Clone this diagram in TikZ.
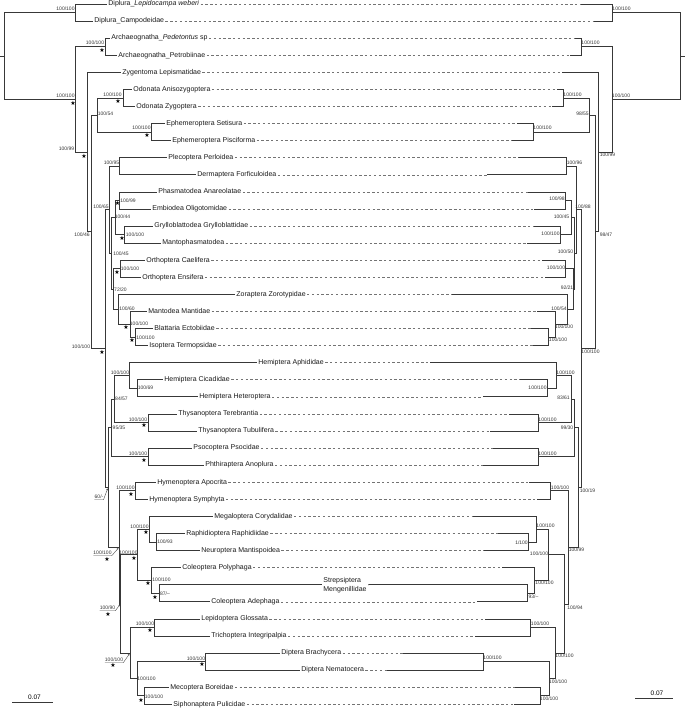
\documentclass[tikz,border=0pt]{standalone}
\usepackage{fontspec}
\setmainfont{Liberation Sans}
\newfontfamily\symf{DejaVu Sans}
\usetikzlibrary{arrows.meta}
\newcommand\tipL[3]{%
  \pgfmathsetmacro\tyy{4+(#1-1)*17.08}%
  \coordinate (L-t#1) at (#2,\tyy);%
  \node[tip] (LN#1) at (L-t#1) {#3};}
\newcommand\nlab[4]{\node[blab] (#1) at (#2,#3) {#4};}
\newcommand\nstar[3]{\node[strs] (#1) at (#2,#3) {★};}
\begin{document}
\begin{tikzpicture}[x=1pt,y=-1pt,
  br/.style={draw=black!78, line width=0.75pt},
  dsh/.style={draw=black!55, line width=0.55pt, dash pattern=on 2.4pt off 2.4pt},
  tip/.style={anchor=west, inner sep=1.2pt, text height=5pt, text depth=1.4pt, font=\fontsize{7}{8.4}\selectfont, text=black!90},
  tiptwo/.style={anchor=west, inner sep=1.2pt, align=left, font=\fontsize{7}{9}\selectfont, text=black!90},
  blab/.style={inner sep=0pt, font=\fontsize{5}{6}\selectfont, text=black!80},
  strs/.style={inner sep=0pt, font=\symf\fontsize{6}{7}\selectfont},
  ldr/.style={draw=black!70, line width=0.4pt, -{Stealth[length=2pt,width=1.6pt]}, shorten >=0.8pt},
  sbt/.style={inner sep=0pt, font=\fontsize{6.5}{7.5}\selectfont}]
\useasboundingbox (0,0) rectangle (685,709);

% internal nodes: name / left x / right x / y
\foreach \n/\xl/\xr/\y in {root/4/680/55.97, Dpl/75/612/12.54, A/75/612/99.39, Arch/105/581/46.7,
  B/87/598/152.08, C/91/595/231.85, D/97/589/115.02, Odo/123/563/97.94, Eph/151/533/132.1,
  E/105/581/348.67, P/109/576/209.76, PD/119/566/166.26, Q/111/574/253.26, N44/115/571/217.5,
  R1/119/565/200.42, R2/124/560/234.58, O/113/573/289.02, R4/120/565/268.74, Z/118/567/309.3,
  M/130/555/324.25, BI/135/548/337.06, F/108/578/487.58, PN/111/574/427.8, HT/114/571/398.98,
  Hem/129/556/375.49, CH/137/547/388.3, Thy/148/538/422.46, Pso/148/538/456.62, H/119/568/547.36,
  Hym/135/550/490.78, G/120.5/564/603.94, NC/137/548/554.83, Neu/149/536/529.21, RN/156/528/542.02,
  Col/151/534/580.45, SA/159/527/593.26, LD/130/555/653.04, LT/154/530/627.42, DM/137/549/678.66,
  Dpt/205/483/661.58, MS/144/540/695.74}
  {\coordinate (L-\n) at (\xl,\y); \coordinate (R-\n) at (\xr,\y);}
\coordinate (L-stub) at (0,55.97);
\coordinate (R-stub) at (685,55.97);

% left tips and labels
\tipL{1}{107}{Diplura\_\textit{Lepidocampa weberi}}
\tipL{2}{93}{Diplura\_Campodeidae}
\tipL{3}{110}{Archaeognatha\_\textit{Pedetontus} sp}
\tipL{4}{117}{Archaeognatha\_Petrobiinae}
\tipL{5}{121}{Zygentoma Lepismatidae}
\tipL{6}{132}{Odonata Anisozygoptera}
\tipL{7}{135}{Odonata Zygoptera}
\tipL{8}{165}{Ephemeroptera Setisura}
\tipL{9}{171}{Ephemeroptera Pisciforma}
\tipL{10}{167}{Plecoptera Perloidea}
\tipL{11}{196}{Dermaptera Forficuloidea}
\tipL{12}{157}{Phasmatodea Anareolatae}
\tipL{13}{151}{Embiodea Oligotomidae}
\tipL{14}{153}{Grylloblattodea Grylloblattidae}
\tipL{15}{161}{Mantophasmatodea}
\tipL{16}{145}{Orthoptera Caelifera}
\tipL{17}{141}{Orthoptera Ensifera}
\tipL{18}{235}{Zoraptera Zorotypidae}
\tipL{19}{147}{Mantodea Mantidae}
\tipL{20}{153}{Blattaria Ectobiidae}
\tipL{21}{148}{Isoptera Termopsidae}
\tipL{22}{257}{Hemiptera Aphididae}
\tipL{23}{163}{Hemiptera Cicadidae}
\tipL{24}{198}{Hemiptera Heteroptera}
\tipL{25}{177}{Thysanoptera Terebrantia}
\tipL{26}{197}{Thysanoptera Tubulifera}
\tipL{27}{192}{Psocoptera Psocidae}
\tipL{28}{204}{Phthiraptera Anoplura}
\tipL{29}{156}{Hymenoptera Apocrita}
\tipL{30}{148}{Hymenoptera Symphyta}
\tipL{31}{213}{Megaloptera Corydalidae}
\tipL{32}{185}{Raphidioptera Raphidiidae}
\tipL{33}{200}{Neuroptera Mantispoidea}
\tipL{34}{181}{Coleoptera Polyphaga}
\coordinate (L-t35) at (322,584.72);
\node[tiptwo] (LN35) at (L-t35) {Strepsiptera\\Mengenillidae};
\tipL{36}{210}{Coleoptera Adephaga}
\tipL{37}{200}{Lepidoptera Glossata}
\tipL{38}{210}{Trichoptera Integripalpia}
\tipL{39}{280}{Diptera Brachycera}
\tipL{40}{300}{Diptera Nematocera}
\tipL{41}{169}{Mecoptera Boreidae}
\tipL{42}{172}{Siphonaptera Pulicidae}

% right tips
\foreach \i/\x in {1/580,2/593,3/575,4/570,5/562,6/557,7/552,8/517,9/512,10/518,11/487,
  12/528,13/534,14/533,15/527,16/542,17/545,18/452,19/537,20/531,21/533,22/430,23/520,
  24/483,25/509,26/490,27/493,28/483,29/529,30/537,31/472,32/498,33/484,34/502,35/369,
  36/477,37/485,38/475,39/403,40/387,41/515,42/514}
  {\pgfmathsetmacro\tyy{4+(\i-1)*17.08}\coordinate (R-t\i) at (\x,\tyy);}

% branches of both trees
\draw[br] (L-stub) -- (L-root);
\draw[br] (R-root) -- (R-stub);
\foreach \p/\c in {root/Dpl, root/A, Dpl/t1, Dpl/t2, A/Arch, A/B, Arch/t3, Arch/t4, B/t5, B/C,
  C/D, C/E, D/Odo, D/Eph, Odo/t6, Odo/t7, Eph/t8, Eph/t9, E/P, E/F, P/PD, P/Q, PD/t10, PD/t11,
  Q/N44, Q/O, N44/R1, N44/R2, R1/t12, R1/t13, R2/t14, R2/t15, O/R4, O/Z, R4/t16, R4/t17,
  Z/t18, Z/M, M/t19, M/BI, BI/t20, BI/t21, F/PN, F/H, PN/HT, PN/Pso, HT/Hem, HT/Thy,
  Hem/t22, Hem/CH, CH/t23, CH/t24, Thy/t25, Thy/t26, Pso/t27, Pso/t28, H/Hym, H/G,
  Hym/t29, Hym/t30, G/NC, G/LD, NC/Neu, NC/Col, Neu/t31, Neu/RN, RN/t32, RN/t33,
  Col/t34, Col/SA, SA/t35, SA/t36, LD/LT, LD/DM, LT/t37, LT/t38, DM/Dpt, DM/MS,
  Dpt/t39, Dpt/t40, MS/t41, MS/t42}
  {\draw[br] (L-\p) |- (L-\c); \draw[br] (R-\p) |- (R-\c);}

% dashed links between the two trees
\foreach \i in {1,...,34,36,37,...,42} \draw[dsh] (LN\i.east) -- (R-t\i);
\draw[br] (LN35.east) -- (R-t35);

% left support values
\nlab{lL-Dpl}{65.5}{9}{100/100}
\nlab{lL-A}{65.5}{96}{100/100} \nstar{sL-A}{73}{103}
\nlab{lL-Arch}{95}{43}{100/100} \nstar{sL-Arch}{102}{50}
\nlab{lL-B}{66.5}{149}{100/99} \nstar{sL-B}{84}{156}
\nlab{lL-Odo}{112.5}{95}{100/100} \nstar{sL-Odo}{118}{101}
\nlab{lL-D}{105.5}{114}{100/54}
\nlab{lL-Eph}{141.5}{128}{100/100} \nstar{sL-Eph}{147}{135}
\nlab{lL-C}{82}{235}{100/46}
\nlab{lL-PD}{111.5}{163}{100/95}
\nlab{lL-P}{101}{207}{100/65}
\nlab{lL-R1}{128}{201}{100/99} \nstar{sL-R1}{117.5}{203.5}
\nlab{lL-N44}{122.5}{217}{100/44}
\nlab{lL-R2}{135}{235}{100/100} \nstar{sL-R2}{122}{238}
\nlab{lL-Q}{121}{254}{100/45}
\nlab{lL-R4}{130}{269}{100/100} \nstar{sL-R4}{117}{272}
\nlab{lL-O}{120.5}{290}{72/20}
\nlab{lL-Z}{127}{309}{100/60}
\nlab{lL-M}{139}{324}{100/100} \nstar{sL-M}{126}{327}
\nlab{lL-BI}{145.5}{338}{100/100} \nstar{sL-BI}{132}{340.5}
\nlab{lL-E}{81}{347}{100/100} \nstar{sL-E}{102}{352}
\nlab{lL-Hem}{120}{373}{100/100}
\nlab{lL-CH}{145.5}{388}{100/69}
\nlab{lL-HT}{121.5}{399}{84/57}
\nlab{lL-PN}{119}{428}{95/35}
\nlab{lL-Thy}{138}{419.5}{100/100} \nstar{sL-Thy}{144}{425}
\nlab{lL-Pso}{138}{453.5}{100/100} \nstar{sL-Pso}{144}{460}
\nlab{lL-F}{99}{497}{60/-}
\nlab{lL-Hym}{125.5}{488}{100/100} \nstar{sL-Hym}{131}{494}
\nlab{lL-Neu}{139.5}{527}{100/100} \nstar{sL-Neu}{146}{532}
\nlab{lL-RN}{165}{542}{100/93}
\nlab{lL-H}{102.5}{553}{100/100} \nstar{sL-H}{107}{559}
\nlab{lL-NC}{128.5}{553}{100/100} \nstar{sL-NC}{134}{558}
\nlab{lL-Col}{161.5}{580}{100/100} \nstar{sL-Col}{148}{583}
\nlab{lL-SA}{165}{594}{87/--} \nstar{sL-SA}{155}{597}
\nlab{lL-G}{107.5}{608}{100/90} \nstar{sL-G}{108}{614}
\nlab{lL-LT}{145}{624}{100/100} \nstar{sL-LT}{150}{630}
\nlab{lL-LD}{114}{660}{100/100} \nstar{sL-LD}{113}{665}
\nlab{lL-Dpt}{196}{659}{100/100} \nstar{sL-Dpt}{202}{664}
\nlab{lL-DM}{146.5}{679}{100/100}
\nlab{lL-MS}{154}{697}{100/100} \nstar{sL-MS}{141}{700}

\foreach \n in {F,H,G,LD}
  \draw[ldr] ([yshift=-0.7pt]lL-\n.south west) -- ([yshift=-0.7pt]lL-\n.south east) -- (L-\n);

% right support values
\nlab{lR-Dpl}{621.5}{9}{100/100}
\nlab{lR-A}{621}{96}{100/100}
\nlab{lR-Arch}{590.5}{43}{100/100}
\nlab{lR-B}{607.5}{155}{100/99}
\nlab{lR-Odo}{572.5}{95}{100/100}
\nlab{lR-D}{582.5}{114}{98/55}
\nlab{lR-Eph}{542.5}{128}{100/100}
\nlab{lR-C}{606}{235}{98/47}
\nlab{lR-PD}{574.5}{163}{100/96}
\nlab{lR-P}{583}{207}{100/88}
\nlab{lR-R1}{557}{199}{100/98}
\nlab{lR-N44}{561.5}{217}{100/45}
\nlab{lR-R2}{550.5}{234}{100/100}
\nlab{lR-Q}{565.5}{252}{100/50}
\nlab{lR-R4}{556}{268}{100/100}
\nlab{lR-O}{567}{288}{92/21}
\nlab{lR-Z}{559}{309}{100/54}
\nlab{lR-M}{564}{327}{100/100}
\nlab{lR-BI}{558}{340}{100/100}
\nlab{lR-E}{590.5}{352}{100/100}
\nlab{lR-Hem}{565.5}{373}{100/100}
\nlab{lR-CH}{537.5}{388}{100/100}
\nlab{lR-HT}{563.5}{398}{83/61}
\nlab{lR-Thy}{547.5}{420}{100/100}
\nlab{lR-PN}{567}{428}{99/30}
\nlab{lR-Pso}{547.5}{454}{100/100}
\nlab{lR-Hym}{560}{488}{100/100}
\nlab{lR-F}{587.5}{491}{100/19}
\nlab{lR-Neu}{545.5}{526}{100/100}
\nlab{lR-RN}{521.5}{543}{1/100}
\nlab{lR-H}{576.5}{550}{100/99}
\nlab{lR-NC}{539}{554}{100/100}
\nlab{lR-Col}{544.5}{583}{100/100}
\nlab{lR-SA}{533.5}{597}{93/--}
\nlab{lR-G}{575}{608}{100/94}
\nlab{lR-LT}{540}{624}{100/100}
\nlab{lR-LD}{564.5}{656}{100/100}
\nlab{lR-Dpt}{492.5}{658}{100/100}
\nlab{lR-DM}{558}{682}{100/100}
\nlab{lR-MS}{549}{699}{100/100}

% scale bars
\coordinate (sbL-a) at (12,702.3);
\coordinate (sbL-b) at (53,702.3);
\draw[br] (sbL-a) -- (sbL-b);
\node[sbt] (sbL-t) at (34.5,697) {0.07};
\coordinate (sbR-a) at (635,698.3);
\coordinate (sbR-b) at (673,698.3);
\draw[br] (sbR-a) -- (sbR-b);
\node[sbt] (sbR-t) at (657,692.8) {0.07};
\end{tikzpicture}
\end{document}
